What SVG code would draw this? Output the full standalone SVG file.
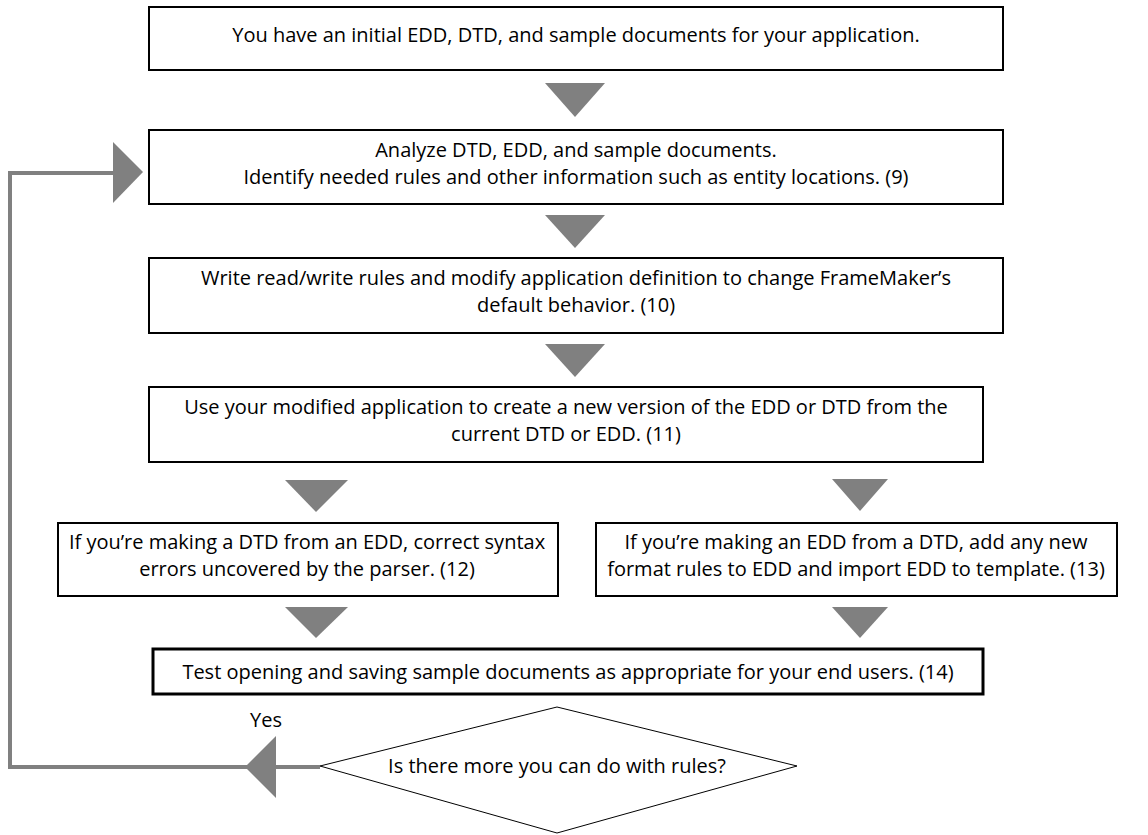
<svg xmlns="http://www.w3.org/2000/svg" width="1148" height="835" viewBox="0 0 1148 835">
<style>
.box{fill:#fff;stroke:#000;stroke-width:2}
.box7{fill:#fff;stroke:#000;stroke-width:3}
.dia{fill:#fff;stroke:#000;stroke-width:1}
.tri{fill:#808080}
.line{fill:none;stroke:#808080;stroke-width:4}
text{font-family:"Open Sans","Noto Sans",sans-serif;font-size:20px;fill:#000;text-anchor:middle}
</style>
<rect width="1148" height="835" fill="#fff"/>
<g id="connectors">
<polygon class="tri" points="545,83 605,83 575,117"/>
<polygon class="tri" points="545,215 605,215 575,248"/>
<polygon class="tri" points="545,344 605,344 575,377"/>
<polygon class="tri" points="285,480 348,480 316,512"/>
<polygon class="tri" points="832,479 888,479 860,511"/>
<polygon class="tri" points="285,607 348,607 316,638"/>
<polygon class="tri" points="832,607 888,607 860,638"/>
<path class="line" d="M320,767 H10 V173 H116"/>
<polygon class="tri" points="143,172 113,142 113,203"/>
<polygon class="tri" points="245,767 276,736 276,798"/>
<text x="266" y="727">Yes</text>
</g>
<g id="n1">
<rect class="box" x="149" y="7" width="854" height="63"/>
<text x="576" y="42">You have an initial EDD, DTD, and sample documents for your application.</text>
</g>
<g id="n2">
<rect class="box" x="149" y="130" width="854" height="74"/>
<text x="576" y="157">Analyze DTD, EDD, and sample documents.</text>
<text x="576" y="184">Identify needed rules and other information such as entity locations. (9)</text>
</g>
<g id="n3">
<rect class="box" x="149" y="258" width="854" height="75"/>
<text x="576" y="285">Write read/write rules and modify application definition to change FrameMaker’s</text>
<text x="576" y="312">default behavior. (10)</text>
</g>
<g id="n4">
<rect class="box" x="149" y="387" width="834" height="75"/>
<text x="566" y="414">Use your modified application to create a new version of the EDD or DTD from the</text>
<text x="566" y="441">current DTD or EDD. (11)</text>
</g>
<g id="n5">
<rect class="box" x="58" y="523" width="500" height="73"/>
<text x="307" y="549">If you’re making a DTD from an EDD, correct syntax</text>
<text x="307" y="576">errors uncovered by the parser. (12)</text>
</g>
<g id="n6">
<rect class="box" x="596" y="523" width="521" height="73"/>
<text x="856" y="549">If you’re making an EDD from a DTD, add any new</text>
<text x="856" y="576">format rules to EDD and import EDD to template. (13)</text>
</g>
<g id="n7">
<rect class="box7" x="153" y="649" width="830" height="45"/>
<text x="568" y="679">Test opening and saving sample documents as appropriate for your end users. (14)</text>
</g>
<g id="n8">
<polygon class="dia" points="320,766 557,707 797,766 557,833"/>
<text x="557" y="773">Is there more you can do with rules?</text>
</g>
</svg>
